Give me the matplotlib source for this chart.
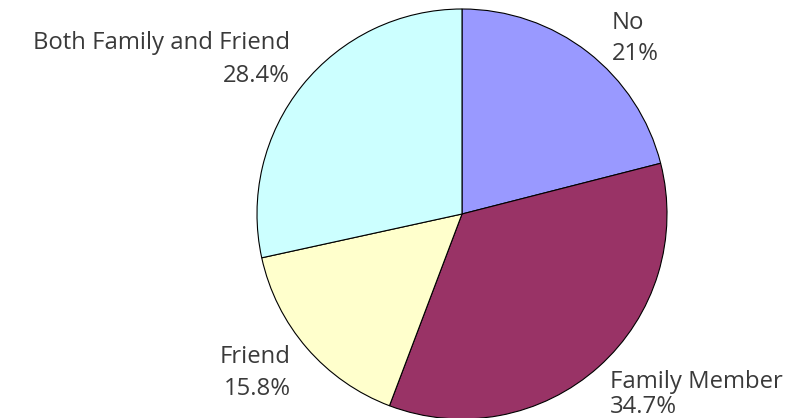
import matplotlib
matplotlib.use("Agg")
import matplotlib.pyplot as plt

categories = ["No", "Family Member", "Friend", "Both Family and Friend"]
values = [21.0, 34.7, 15.8, 28.4]
pct_labels = ["21%", "34.7%", "15.8%", "28.4%"]
colors = ["#9999FF", "#993366", "#FFFFCC", "#CCFFFF"]

plt.rcParams['font.family'] = ['Open Sans', 'DejaVu Sans']

W, H = 804, 418
fig = plt.figure(figsize=(W / 100, H / 100), dpi=100)
ax = fig.add_axes([0, 0, 1, 1])

cx, cy, r = 462, H - 214, 205
ax.pie(values, colors=colors, startangle=90, counterclock=False,
       center=(cx, cy), radius=r, frame=True,
       wedgeprops=dict(edgecolor='black', linewidth=0.8))
ax.set_xlim(0, W)
ax.set_ylim(0, H)
ax.set_aspect('equal')
ax.axis('off')

fs = 17.2
# (x, baseline of name line, baseline of percent line, ha) in pixel coords from top
label_pos = [
    (612, 29, 60, 'left'),
    (610, 388, 413, 'left'),
    (291, 363, 395, 'right'),
    (290, 49, 82, 'right'),
]
for cat, pct, (x, y1, y2, ha) in zip(categories, pct_labels, label_pos):
    ax.text(x, H - y1, cat, ha=ha, va='baseline', fontsize=fs,
            color='#3a3a3a', fontweight='normal')
    ax.text(x, H - y2, pct, ha=ha, va='baseline', fontsize=fs,
            color='#3a3a3a', fontweight='normal')

fig.savefig("out.png", dpi=100)
